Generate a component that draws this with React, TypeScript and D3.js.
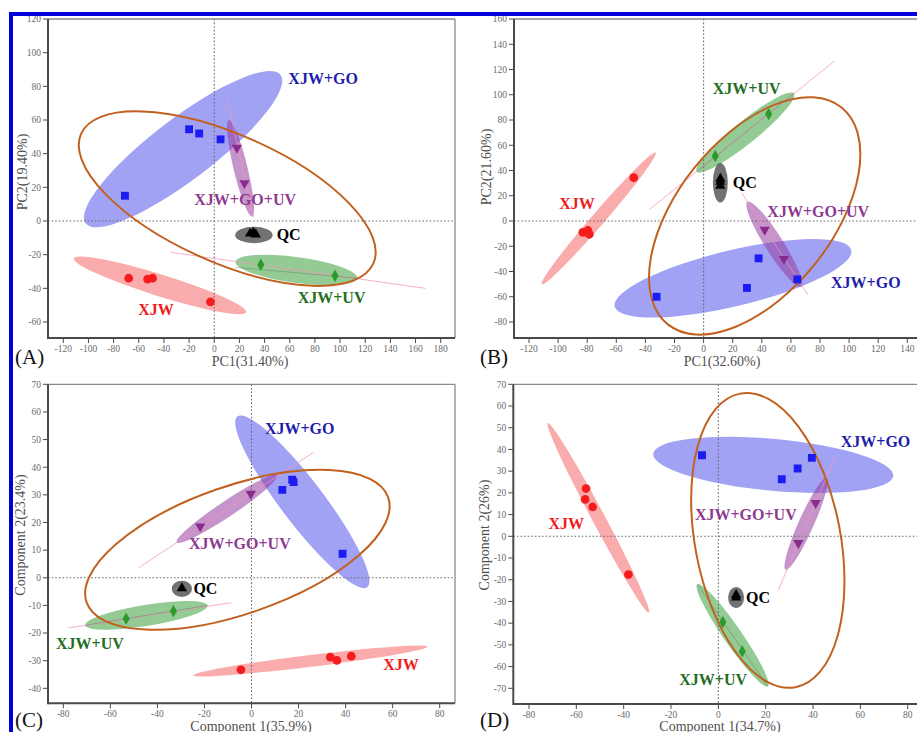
import React from 'react';
import * as d3 from 'd3';

type P = [number, number];
type Ell = { g: string; c: P; tip: P; r: number };
type Guide = { a: P; b: P; kind: 'pink' | 'axis' };
type Lab = { g: string; at: P };

const FONT = "'Liberation Serif', 'DejaVu Serif', 'Times New Roman', Times, serif";

// ---------- (A) PCA scores, PC1 vs PC2 ----------
const aXTicks = [-120, -100, -80, -60, -40, -20, 0, 20, 40, 60, 80, 100, 120, 140, 160, 180];
const aYTicks = [-60, -40, -20, 0, 20, 40, 60, 80, 100, 120];
const aXJW: P[] = [[-68, -34], [-53, -34.5], [-49, -34], [-3, -48]];
const aGO: P[] = [[-71, 15], [-20, 54.5], [-12, 52], [5, 48.5]];
const aGOUV: P[] = [[18, 43.5], [24, 22.5]];
const aUV: P[] = [[37, -26], [96, -32.5]];
const aQC: P[] = [[28.5, -7.5], [31, -7], [33, -8]];
const aEllipses: Ell[] = [
  { g: 'XJW+GO', c: [-24.8, 42.7], tip: [52.7, 86.8], r: 0.25 },
  { g: 'XJW', c: [-43.1, -38.2], tip: [25.4, -54.2], r: 0.12 },
  { g: 'XJW+UV', c: [65.3, -29.1], tip: [113.7, -34.0], r: 0.21 },
  { g: 'XJW+GO+UV', c: [20.9, 31.3], tip: [11.6, 60], r: 0.14 },
  { g: 'QC', c: [31.5, -8.3], tip: [46.4, -8.3], r: 0.44 },
];
const aOverall: Ell = { g: 'ALL', c: [10.3, 13.3], tip: [126.5, -25.2], r: 0.4 };
const aGuides: Guide[] = [
  { a: [-34.7, -18.6], b: [168, -40], kind: 'pink' },
  { a: [10.5, 72], b: [31, 2.5], kind: 'pink' },
  { a: [17, -27.5], b: [113.7, -34.0], kind: 'axis' },
];
const aLabels: Lab[] = [
  { g: 'XJW+GO', at: [58.9, 81.4] },
  { g: 'XJW+GO+UV', at: [-15.9, 9.5] },
  { g: 'QC', at: [49.6, -11.3] },
  { g: 'XJW+UV', at: [66.3, -48.7] },
  { g: 'XJW', at: [-60.4, -55.8] },
];

// ---------- (B) PCA scores, PC1 vs PC2 ----------
const bXTicks = [-120, -100, -80, -60, -40, -20, 0, 20, 40, 60, 80, 100, 120, 140];
const bYTicks = [-80, -60, -40, -20, 0, 20, 40, 60, 80, 100, 120, 140, 160];
const bXJW: P[] = [[-48, 34.3], [-83, -9], [-79.5, -7.5], [-78.5, -10.5]];
const bGO: P[] = [[-32.3, -60], [29.8, -53], [37.8, -29.6], [64.4, -46.2]];
const bGOUV: P[] = [[42, -7], [55.2, -30]];
const bUV: P[] = [[8, 51.5], [44.7, 84.7]];
const bQC: P[] = [[11.5, 28], [11.5, 31], [11.5, 33.5]];
const bEllipses: Ell[] = [
  { g: 'XJW+GO', c: [20.2, -45.4], tip: [101.5, -23.0], r: 0.23 },
  { g: 'XJW', c: [-72.1, 2.0], tip: [-33.0, 54.1], r: 0.075 },
  { g: 'XJW+UV', c: [28.7, 70.1], tip: [62.1, 101.1], r: 0.18 },
  { g: 'XJW+GO+UV', c: [48.6, -18.4], tip: [67.1, -52.0], r: 0.18 },
  { g: 'QC', c: [11.5, 30.3], tip: [11.5, 45.9], r: 0.38 },
];
const bOverall: Ell = { g: 'ALL', c: [35.1, 4.0], tip: [94.8, 89.9], r: 0.555 };
const bGuides: Guide[] = [
  { a: [-37.1, 9.3], b: [90, 126.7], kind: 'pink' },
  { a: [26.1, 22.4], b: [71.7, -58.6], kind: 'pink' },
  { a: [-4.7, 39.1], b: [62.1, 101.1], kind: 'axis' },
];
const bLabels: Lab[] = [
  { g: 'XJW+UV', at: [6.3, 100.6] },
  { g: 'QC', at: [20, 26.1] },
  { g: 'XJW', at: [-99.2, 9.5] },
  { g: 'XJW+GO+UV', at: [43.8, 3.2] },
  { g: 'XJW+GO', at: [87.6, -53.1] },
];

// ---------- (C) PLS-DA scores, component 1 vs 2 ----------
const cXTicks = [-80, -60, -40, -20, 0, 20, 40, 60, 80];
const cYTicks = [-40, -30, -20, -10, 0, 10, 20, 30, 40, 50, 60, 70];
const cXJW: P[] = [[-4.5, -33.3], [33.5, -28.7], [36.3, -29.9], [42.4, -28.4]];
const cGO: P[] = [[13.1, 31.8], [17.3, 35.5], [17.9, 34.6], [38.7, 8.7]];
const cGOUV: P[] = [[-21.8, 18.6], [-0.3, 30.4]];
const cUV: P[] = [[-53.3, -14.8], [-33.2, -12.1]];
const cQC: P[] = [[-29.6, -3.8]];
const cEllipses: Ell[] = [
  { g: 'XJW+GO', c: [21.6, 27.5], tip: [-6.0, 58.4], r: 0.2 },
  { g: 'XJW', c: [25.0, -30.1], tip: [74.8, -24.9], r: 0.05 },
  { g: 'XJW+UV', c: [-44.7, -13.6], tip: [-18.7, -10.0], r: 0.17 },
  { g: 'XJW+GO+UV', c: [-10.5, 24.9], tip: [10.8, 37.0], r: 0.13 },
  { g: 'QC', c: [-29.6, -4.0], tip: [-25.3, -4.0], r: 0.8 },
];
const cOverall: Ell = { g: 'ALL', c: [-6.0, 10.1], tip: [58.1, 29.1], r: 0.4 };
const cGuides: Guide[] = [
  { a: [-48.0, 3.6], b: [26.4, 45.4], kind: 'pink' },
  { a: [-77.8, -18.2], b: [-8.6, -9.0], kind: 'pink' },
  { a: [-70.7, -17.2], b: [-18.7, -10.0], kind: 'axis' },
];
const cLabels: Lab[] = [
  { g: 'XJW+GO', at: [5.7, 52.0] },
  { g: 'XJW+GO+UV', at: [-26.6, 10.4] },
  { g: 'QC', at: [-24.7, -5.9] },
  { g: 'XJW+UV', at: [-83.1, -25.8] },
  { g: 'XJW', at: [56.0, -33.3] },
];

// ---------- (D) PLS-DA scores, component 1 vs 2 ----------
const dXTicks = [-80, -60, -40, -20, 0, 20, 40, 60, 80];
const dYTicks = [-70, -60, -50, -40, -30, -20, -10, 0, 10, 20, 30, 40, 50, 60, 70];
const dXJW: P[] = [[-55.9, 22.0], [-56.3, 17.0], [-53.1, 13.5], [-38.0, -17.6]];
const dGO: P[] = [[-6.9, 37.3], [26.8, 26.3], [33.5, 31.2], [39.5, 36.1]];
const dGOUV: P[] = [[41.1, 15.3], [33.8, -3.1]];
const dUV: P[] = [[1.9, -39.5], [10.1, -53.0]];
const dQC: P[] = [[7.5, -28.2], [7.5, -27]];
const dEllipses: Ell[] = [
  { g: 'XJW+GO', c: [23.2, 32.9], tip: [73.9, 27.8], r: 0.215 },
  { g: 'XJW', c: [-50.7, 8.5], tip: [-72.1, 52.2], r: 0.06 },
  { g: 'XJW+UV', c: [6.0, -45.6], tip: [20.9, -69.1], r: 0.145 },
  { g: 'XJW+GO+UV', c: [37.1, 5.8], tip: [45.8, 27.0], r: 0.15 },
  { g: 'QC', c: [7.5, -28.2], tip: [7.5, -23.3], r: 0.75 },
];
const dOverall: Ell = { g: 'ALL', c: [20.9, -1.9], tip: [9.2, 65.7], r: 0.487 };
const dGuides: Guide[] = [
  { a: [49.3, 36.5], b: [25.3, -24.9], kind: 'pink' },
  { a: [-8.9, -22.1], b: [20.9, -69.1], kind: 'axis' },
];
const dLabels: Lab[] = [
  { g: 'XJW+GO', at: [51.7, 41.1] },
  { g: 'XJW+GO+UV', at: [-9.9, 7.7] },
  { g: 'XJW', at: [-71.8, 3.4] },
  { g: 'QC', at: [11.7, -30.7] },
  { g: 'XJW+UV', at: [-16.5, -68.5] },
];

// Group appearance
const STYLE: Record<string, { mark: string; fill: string; op: number; text: string; sym: string }> = {
  'XJW': { mark: '#f41c1c', fill: 'rgb(245,70,70)', op: 0.45, text: '#ee1c1c', sym: 'circle' },
  'XJW+GO': { mark: '#1c1cf2', fill: 'rgb(70,70,235)', op: 0.5, text: '#1d1daa', sym: 'square' },
  'XJW+GO+UV': { mark: '#8a2c8c', fill: 'rgb(150,60,160)', op: 0.55, text: '#8e3990', sym: 'down' },
  'XJW+UV': { mark: '#2a9a2a', fill: 'rgb(60,160,60)', op: 0.55, text: '#1f6e1f', sym: 'diamond' },
  'QC': { mark: '#000000', fill: 'rgb(60,60,60)', op: 0.72, text: '#000000', sym: 'up' },
};

interface PanelDef {
  label: string;
  frame: { x0: number; x1: number; y0: number; y1: number };
  xTicks: number[];
  yTicks: number[];
  xPix: [number, number];
  yPix: [number, number];
  xTitle: string;
  yTitle: string;
  xTitleAt: P;
  yTitleAt: P;
  labelAt: P;
  series: [string, P[]][];
  ellipses: Ell[];
  overall: Ell;
  guides: Guide[];
  labels: Lab[];
}

const panels: PanelDef[] = [
  {
    label: '(A)', frame: { x0: 48, x1: 455, y0: 19, y1: 338 },
    xTicks: aXTicks, yTicks: aYTicks, xPix: [63.3, 440.7], yPix: [322, 19],
    xTitle: 'PC1(31.40%)', yTitle: 'PC2(19.40%)', xTitleAt: [250, 366], yTitleAt: [22, 172], labelAt: [15, 364],
    series: [['XJW', aXJW], ['XJW+GO', aGO], ['XJW+GO+UV', aGOUV], ['XJW+UV', aUV], ['QC', aQC]],
    ellipses: aEllipses, overall: aOverall, guides: aGuides, labels: aLabels,
  },
  {
    label: '(B)', frame: { x0: 514, x1: 925, y0: 19, y1: 338 },
    xTicks: bXTicks, yTicks: bYTicks, xPix: [529, 907.3], yPix: [322, 19],
    xTitle: 'PC1(32.60%)', yTitle: 'PC2(21.60%)', xTitleAt: [722, 366], yTitleAt: [486, 167], labelAt: [480, 364],
    series: [['XJW', bXJW], ['XJW+GO', bGO], ['XJW+GO+UV', bGOUV], ['XJW+UV', bUV], ['QC', bQC]],
    ellipses: bEllipses, overall: bOverall, guides: bGuides, labels: bLabels,
  },
  {
    label: '(C)', frame: { x0: 48, x1: 455, y0: 384.3, y1: 703.3 },
    xTicks: cXTicks, yTicks: cYTicks, xPix: [63.3, 439.7], yPix: [688.3, 384.3],
    xTitle: 'Component 1(35.9%)', yTitle: 'Component 2(23.4%)', xTitleAt: [251, 731], yTitleAt: [20, 535], labelAt: [15, 727],
    series: [['XJW', cXJW], ['XJW+GO', cGO], ['XJW+GO+UV', cGOUV], ['XJW+UV', cUV], ['QC', cQC]],
    ellipses: cEllipses, overall: cOverall, guides: cGuides, labels: cLabels,
  },
  {
    label: '(D)', frame: { x0: 513.3, x1: 925, y0: 384.3, y1: 704 },
    xTicks: dXTicks, yTicks: dYTicks, xPix: [529, 907.7], yPix: [688.3, 384.3],
    xTitle: 'Component 1(34.7%)', yTitle: 'Component 2(26%)', xTitleAt: [720, 731], yTitleAt: [484, 535], labelAt: [480, 727],
    series: [['XJW', dXJW], ['XJW+GO', dGO], ['XJW+GO+UV', dGOUV], ['XJW+UV', dUV], ['QC', dQC]],
    ellipses: dEllipses, overall: dOverall, guides: dGuides, labels: dLabels,
  },
];

function symbolPath(kind: string): string {
  const gen = d3.symbol();
  switch (kind) {
    case 'circle': return gen.type(d3.symbolCircle).size(60)()!;
    case 'square': return gen.type(d3.symbolSquare).size(62)()!;
    case 'diamond': return gen.type(d3.symbolDiamond).size(44)()!;
    case 'down':
    case 'up': return gen.type(d3.symbolTriangle).size(46)()!;
    default: return gen.type(d3.symbolCircle).size(50)()!;
  }
}

function EllipseShape({ e, sx, sy, fill, op, stroke }: {
  e: Ell; sx: d3.ScaleLinear<number, number>; sy: d3.ScaleLinear<number, number>;
  fill: string; op: number; stroke?: string;
}) {
  const cx = sx(e.c[0]);
  const cy = sy(e.c[1]);
  const ux = sx(e.tip[0]) - cx;
  const uy = sy(e.tip[1]) - cy;
  const rx = Math.hypot(ux, uy);
  const ang = (Math.atan2(uy, ux) * 180) / Math.PI;
  return (
    <ellipse cx={cx} cy={cy} rx={rx} ry={rx * e.r}
      transform={`rotate(${ang} ${cx} ${cy})`}
      fill={fill} fillOpacity={op}
      stroke={stroke ?? 'none'} strokeWidth={stroke ? 2 : 0} />
  );
}

function Panel({ p, idx }: { p: PanelDef; idx: number }) {
  const sx = d3.scaleLinear().domain([p.xTicks[0], p.xTicks[p.xTicks.length - 1]]).range(p.xPix);
  const sy = d3.scaleLinear().domain([p.yTicks[0], p.yTicks[p.yTicks.length - 1]]).range(p.yPix);
  const f = p.frame;
  const clipId = `clip-${idx}`;
  const axisColor = '#4a4a4a';
  return (
    <g>
      <defs>
        <clipPath id={clipId}>
          <rect x={f.x0} y={f.y0} width={f.x1 - f.x0} height={f.y1 - f.y0} />
        </clipPath>
      </defs>
      <g clipPath={`url(#${clipId})`}>
        {p.ellipses.map((e, i) => (
          <EllipseShape key={i} e={e} sx={sx} sy={sy} fill={STYLE[e.g].fill} op={STYLE[e.g].op} />
        ))}
        {/* zero reference lines */}
        <line x1={sx(0)} x2={sx(0)} y1={f.y0} y2={f.y1} stroke="#6a6a6a" strokeWidth={1.1} strokeDasharray="1.6,2" />
        <line x1={f.x0} x2={f.x1} y1={sy(0)} y2={sy(0)} stroke="#6a6a6a" strokeWidth={1.1} strokeDasharray="1.6,2" />
        {p.guides.map((gd, i) => (
          <line key={i} x1={sx(gd.a[0])} y1={sy(gd.a[1])} x2={sx(gd.b[0])} y2={sy(gd.b[1])}
            stroke={gd.kind === 'pink' ? 'rgb(240,150,185)' : 'rgb(90,90,90)'}
            strokeOpacity={gd.kind === 'pink' ? 0.75 : 0.35} strokeWidth={1} />
        ))}
        <EllipseShape e={p.overall} sx={sx} sy={sy} fill="none" op={0} stroke="#c2611f" />
        {p.series.map(([g, pts]) => {
          const st = STYLE[g];
          const d = symbolPath(st.sym);
          return pts.map((pt, i) => (
            <path key={`${g}-${i}`} d={d} fill={st.mark}
              transform={`translate(${sx(pt[0])},${sy(pt[1])})${st.sym === 'down' ? ' rotate(180)' : ''}`} />
          ));
        })}
      </g>
      {/* frame */}
      <line x1={f.x0} x2={f.x1} y1={f.y0} y2={f.y0} stroke="#8a8a8a" strokeWidth={1.3} />
      <line x1={f.x1} x2={f.x1} y1={f.y0} y2={f.y1} stroke="#8a8a8a" strokeWidth={1.3} />
      <line x1={f.x0} x2={f.x1} y1={f.y1} y2={f.y1} stroke={axisColor} strokeWidth={2} />
      <line x1={f.x0} x2={f.x0} y1={f.y0} y2={f.y1 + 1} stroke={axisColor} strokeWidth={2} />
      {p.xTicks.map((t) => (
        <g key={`x${t}`}>
          <line x1={sx(t)} x2={sx(t)} y1={f.y1} y2={f.y1 + 5} stroke={axisColor} strokeWidth={1} />
          <text x={sx(t)} y={f.y1 + 14} textAnchor="middle" fontSize={9.5} fill="#6b6b6b" fontFamily={FONT}>{t}</text>
        </g>
      ))}
      {p.yTicks.map((t) => (
        <g key={`y${t}`}>
          <line x1={f.x0 - 5} x2={f.x0} y1={sy(t)} y2={sy(t)} stroke={axisColor} strokeWidth={1} />
          <text x={f.x0 - 7} y={sy(t) + 3.3} textAnchor="end" fontSize={9.5} fill="#6b6b6b" fontFamily={FONT}>{t}</text>
        </g>
      ))}
      <text x={p.xTitleAt[0]} y={p.xTitleAt[1]} textAnchor="middle" fontSize={14} fill="#505050" fontFamily={FONT}>{p.xTitle}</text>
      <text transform={`translate(${p.yTitleAt[0]},${p.yTitleAt[1]}) rotate(-90)`} textAnchor="middle"
        dominantBaseline="central" fontSize={14} fill="#505050" fontFamily={FONT}>{p.yTitle}</text>
      <text x={p.labelAt[0]} y={p.labelAt[1]} fontSize={21} fill="#111" fontFamily={FONT}>{p.label}</text>
      {p.labels.map((l) => (
        <text key={l.g} x={sx(l.at[0])} y={sy(l.at[1])} fontSize={16} fontWeight="bold"
          fill={STYLE[l.g].text} fontFamily={FONT}>{l.g}</text>
      ))}
    </g>
  );
}

export default function App() {
  return (
    <svg width={917} height={732} viewBox="0 0 917 732"
      style={{ position: 'absolute', left: 0, top: 0, background: '#fff', display: 'block' }}>
      <rect x={0} y={0} width={917} height={732} fill="#fff" />
      {panels.map((p, i) => <Panel key={p.label} p={p} idx={i} />)}
      {/* outer blue frame */}
      <line x1={11} x2={11} y1={12} y2={732} stroke="#0000dc" strokeWidth={4} />
      <line x1={9} x2={917} y1={14} y2={14} stroke="#0000dc" strokeWidth={4} />
    </svg>
  );
}
